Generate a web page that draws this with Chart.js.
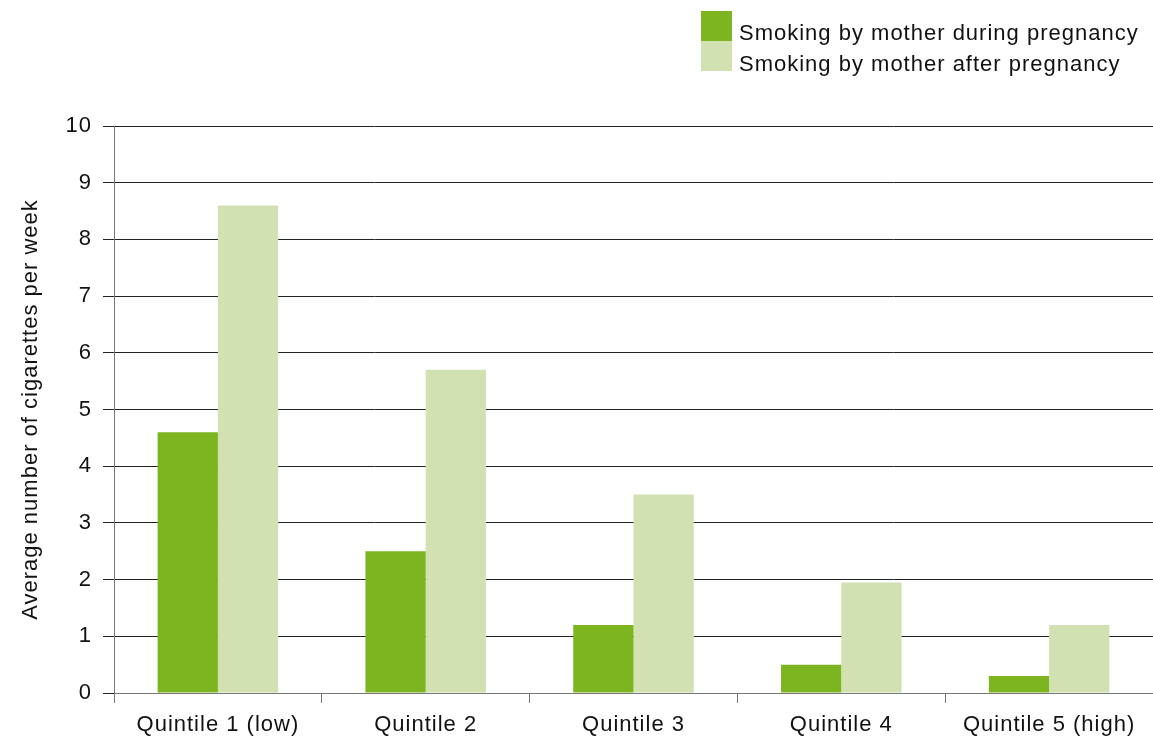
<!DOCTYPE html>
<html>
<head>
<meta charset="utf-8">
<script src="https://cdn.jsdelivr.net/npm/chart.js@4/dist/chart.umd.min.js"></script>
<style>
  html, body { margin: 0; padding: 0; background: #fff; }
  #wrap { position: relative; width: 1153px; height: 742px; }
  #legend { position: absolute; left: 701px; top: 11px; font-family: "Liberation Sans", Arial, sans-serif; font-size: 22px; letter-spacing: 1px; color: #111; }
  #legend div { display: flex; align-items: flex-start; height: 30px; }
  #legend span.box { width: 31px; height: 30px; margin-right: 7px; flex: none; }
  #legend span.txt { line-height: 22px; padding-top: 11px; white-space: nowrap; }
</style>
</head>
<body>
<div id="wrap">
  <canvas id="chart" width="1153" height="742"></canvas>
  <div id="legend"></div>
</div>
<script>
// data
const categories = ["Quintile 1 (low)", "Quintile 2", "Quintile 3", "Quintile 4", "Quintile 5 (high)"];
const duringPregnancy = [4.6, 2.5, 1.2, 0.5, 0.3];
const afterPregnancy = [8.6, 5.7, 3.5, 1.95, 1.2];
const seriesNames = ["Smoking by mother during pregnancy", "Smoking by mother after pregnancy"];
const seriesColors = ["#7cb51f", "#d2e1b1"];

const font = { family: "'Liberation Sans', Arial, sans-serif", size: 22 };

// wider tracking like the original typeface
const spacing = {
  id: "spacing",
  beforeLayout: c => { c.ctx.letterSpacing = "1px"; },
  beforeDraw: c => { c.ctx.letterSpacing = "1px"; }
};

const chart = new Chart(document.getElementById("chart"), {
  type: "bar",
  data: {
    labels: categories,
    datasets: [
      { label: seriesNames[0], data: duringPregnancy, backgroundColor: seriesColors[0] },
      { label: seriesNames[1], data: afterPregnancy, backgroundColor: seriesColors[1] }
    ]
  },
  options: {
    responsive: false,
    animation: false,
    layout: { padding: { top: 126, right: 0, left: 0, bottom: 0 } },
    datasets: { bar: { categoryPercentage: 0.58, barPercentage: 1.0 } },
    plugins: { legend: { display: false }, tooltip: { enabled: false } },
    scales: {
      x: {
        grid: { display: true, drawOnChartArea: false, tickLength: 10, color: "#777", offset: true },
        border: { color: "#777" },
        ticks: { color: "#111", font: font, padding: 9 },
        afterFit: s => { s.height = 49; }
      },
      y: {
        min: 0, max: 10,
        ticks: { stepSize: 1, color: "#111", font: font, padding: 11 },
        grid: { color: "#222", tickLength: 11 },
        border: { color: "#777" },
        title: { display: true, text: "Average number of cigarettes per week", color: "#111", font: font, padding: { top: 18, bottom: 0 } },
        afterFit: s => { s.width = 114; }
      }
    }
  },
  plugins: [spacing]
});

// legend as html
const legend = document.getElementById("legend");
seriesNames.forEach((name, i) => {
  const row = document.createElement("div");
  const box = document.createElement("span");
  box.className = "box";
  box.style.background = seriesColors[i];
  const txt = document.createElement("span");
  txt.className = "txt";
  txt.textContent = name;
  if (i > 0) txt.style.paddingTop = "12px";
  row.appendChild(box);
  row.appendChild(txt);
  legend.appendChild(row);
});
</script>
</body>
</html>
